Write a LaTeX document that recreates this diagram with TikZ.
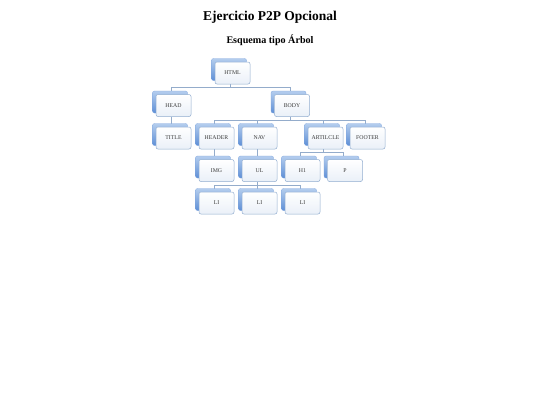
\documentclass[tikz,border=0pt]{standalone}
\usepackage{fontspec}
\setmainfont{Liberation Serif}
\usetikzlibrary{calc}
\definecolor{backtop}{HTML}{B4CDEE}
\definecolor{backbot}{HTML}{5E8FD6}
\definecolor{frontbot}{HTML}{EAF0F8}
\definecolor{frontline}{HTML}{93AED0}
\definecolor{connline}{HTML}{94ACCB}
\definecolor{boxtext}{HTML}{3A3A3A}
\tikzset{
  backbox/.style={rectangle, rounded corners=2pt, minimum width=35pt, minimum height=22pt,
    inner sep=0pt, top color=backtop, bottom color=backbot, draw=backbot!80, line width=0.3pt},
  frontbox/.style={rectangle, rounded corners=2pt, minimum width=35pt, minimum height=22pt,
    inner sep=0pt, top color=white, bottom color=frontbot, draw=frontline, line width=0.5pt,
    font=\fontsize{5.8}{6}\selectfont, text=boxtext},
  conn/.style={draw=connline, line width=0.6pt},
  titletext/.style={font=\fontsize{13.5}{15}\selectfont\bfseries, text=black},
  subtext/.style={font=\fontsize{10.1}{12}\selectfont\bfseries, text=black},
}
\newcommand\smbox[4]{%
  \node[backbox] (#1-b) at (#2+14, #3+7.5) {};
  \node[frontbox] (#1) at (#2+17.5, #3+11) {#4};
}
\newcommand\smconn[2]{%
  \draw[conn] ($(#1.south)+(-1.75,0)$) -- ++(0,3.5) -| ($(#2.north)+(-1.75,0)$);
}
\begin{document}
\begin{tikzpicture}[x=1pt,y=-1pt]
\useasboundingbox[fill=white] (0,0) rectangle (540,405);
\node[titletext] (title) at (270,17) {Ejercicio P2P Opcional};
\node[subtext] (subtitle) at (270,40) {Esquema tipo Árbol};
% invisible placement first for connectors
\begin{scope}[opacity=0]
\smbox{html}{215}{62}{HTML}
\smbox{head}{156}{94.5}{HEAD}
\smbox{body}{274.5}{94.5}{BODY}
\smbox{titlen}{156}{127}{TITLE}
\smbox{header}{199}{127}{HEADER}
\smbox{nav}{242}{127}{NAV}
\smbox{article}{308}{127}{ARTILCLE}
\smbox{footer}{350}{127}{FOOTER}
\smbox{img}{199}{159.5}{IMG}
\smbox{ul}{242}{159.5}{UL}
\smbox{hone}{285}{159.5}{H1}
\smbox{p}{327.5}{159.5}{P}
\smbox{lia}{199}{192}{LI}
\smbox{lib}{242}{192}{LI}
\smbox{lic}{285}{192}{LI}
\end{scope}
\smconn{html}{head}
\smconn{html}{body}
\smconn{head}{titlen}
\smconn{body}{header}
\smconn{body}{nav}
\smconn{body}{article}
\smconn{body}{footer}
\smconn{header}{img}
\smconn{nav}{ul}
\smconn{article}{hone}
\smconn{article}{p}
\smconn{ul}{lia}
\smconn{ul}{lib}
\smconn{ul}{lic}
\smbox{html}{215}{62}{HTML}
\smbox{head}{156}{94.5}{HEAD}
\smbox{body}{274.5}{94.5}{BODY}
\smbox{titlen}{156}{127}{TITLE}
\smbox{header}{199}{127}{HEADER}
\smbox{nav}{242}{127}{NAV}
\smbox{article}{308}{127}{ARTILCLE}
\smbox{footer}{350}{127}{FOOTER}
\smbox{img}{199}{159.5}{IMG}
\smbox{ul}{242}{159.5}{UL}
\smbox{hone}{285}{159.5}{H1}
\smbox{p}{327.5}{159.5}{P}
\smbox{lia}{199}{192}{LI}
\smbox{lib}{242}{192}{LI}
\smbox{lic}{285}{192}{LI}
\end{tikzpicture}
\end{document}
